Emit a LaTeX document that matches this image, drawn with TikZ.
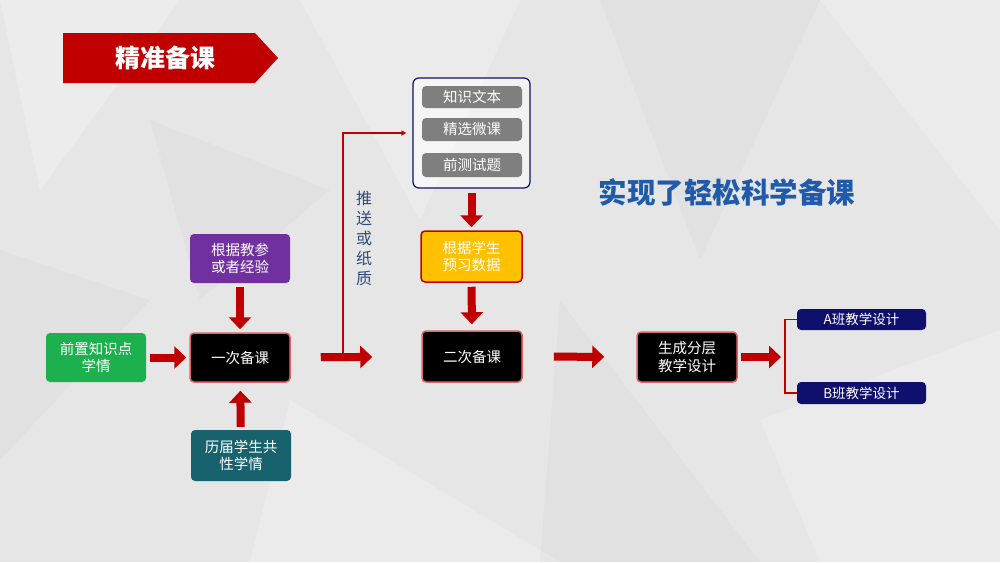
\documentclass[tikz,border=0pt]{standalone}
\usepackage{fontspec}
\setmainfont{Noto Sans CJK SC}
\usetikzlibrary{arrows.meta}
\usetikzlibrary{positioning}
\definecolor{bg}{HTML}{E6E6E6}
\definecolor{darkred}{HTML}{C00000}
\definecolor{boxgreen}{HTML}{1CB04E}
\definecolor{boxpurple}{HTML}{7030A0}
\definecolor{boxteal}{HTML}{17626C}
\definecolor{boxyellow}{HTML}{FFC000}
\definecolor{boxgray}{HTML}{7F7F7F}
\definecolor{boxnavy}{HTML}{0F0F6E}
\definecolor{rimred}{HTML}{E06666}
\definecolor{slogan}{HTML}{1F5BAA}
\definecolor{pushtext}{HTML}{2F4A7A}
\tikzset{box/.style = {rounded corners = 4, inner sep = 0, align = center, text = white,
    minimum width = 100, minimum height = 49, font = \fontsize{14.5}{17.5}\selectfont}}
\tikzset{blackbox/.style = {box, fill = black, draw = rimred, line width = 1.5}}
\tikzset{tagbox/.style = {box, fill = boxgray, minimum height = 23}}
\tikzset{classbox/.style = {box, fill = boxnavy, minimum width = 129, minimum height = 21, font = \fontsize{13.5}{15}\selectfont}}
\tikzset{fat/.style = {draw = darkred, line width = 8, -{Triangle[length = 12, width = 22]}}}

\begin{document}
\begin{tikzpicture}[x = 1pt, y = -1pt]
      \useasboundingbox (0, 0) rectangle (1000, 562);
      \fill[bg] (0, 0) rectangle (1000, 562);
      \fill[white, opacity = 0.25] (0, 0) -- (180, 0) -- (40, 190) -- cycle;
      \fill[white, opacity = 0.2] (300, 0) -- (520, 0) -- (420, 220) -- cycle;
      \fill[black, opacity = 0.02] (600, 0) -- (820, 0) -- (700, 260) -- cycle;
      \fill[white, opacity = 0.2] (820, 0) -- (1000, 0) -- (1000, 230) -- cycle;
      \fill[black, opacity = 0.02] (0, 250) -- (150, 300) -- (0, 460) -- cycle;
      \fill[white, opacity = 0.2] (290, 400) -- (560, 562) -- (250, 562) -- cycle;
      \fill[black, opacity = 0.02] (560, 300) -- (760, 562) -- (540, 562) -- cycle;
      \fill[white, opacity = 0.2] (760, 420) -- (1000, 330) -- (1000, 562) -- (820, 562) -- cycle;
      \fill[black, opacity = 0.018] (150, 120) -- (330, 190) -- (200, 300) -- cycle;

      \fill[darkred] (63, 33) -- (255, 33) -- (278, 58) -- (255, 83) -- (63, 83) -- cycle;
      \node (title) at (165, 58) [text = white, font = \fontsize{25}{27}\selectfont\bfseries] {精准备课};

      \node (pre) at (96, 357.5) [box, fill = boxgreen] {前置知识点\\学情};
      \node (b1) at (240, 357.5) [blackbox] {一次备课};
      \node (ref) at (240, 258.5) [box, fill = boxpurple] {根据教参\\或者经验};
      \node (hist) at (241, 455.5) [box, fill = boxteal, minimum height = 51] {历届学生共\\性学情};

      \node (grp) at (471.5, 133) [draw = boxnavy, fill = white, fill opacity = 0.5, text opacity = 1,
        line width = 1.2, rounded corners = 6, minimum width = 117, minimum height = 110] {};
      \node (k1) at (472, 97) [tagbox, minimum height = 22] {知识文本};
      \node (k2) at (472, 129.5) [tagbox] {精选微课};
      \node (k3) at (472, 165) [tagbox, minimum height = 24] {前测试题};
      \node (data) at (471.5, 256.5) [box, fill = boxyellow, draw = darkred, line width = 1.5,
        minimum width = 101, minimum height = 51] {根据学生\\预习数据};
      \node (b2) at (472, 356.5) [blackbox, minimum height = 51] {二次备课};
      \node (gen) at (687, 357) [blackbox, minimum height = 50] {生成分层\\教学设计};
      \node (clsA) at (861.5, 319.5) [classbox] {A班教学设计};
      \node (clsB) at (861.5, 393) [classbox, minimum height = 22] {B班教学设计};

      \node (slogan) at (727, 192) [text = slogan, font = \fontsize{28.5}{31}\selectfont\bfseries] {实现了轻松科学备课};
      \node (pushlbl) at (364, 238) [text = pushtext, align = center, font = \fontsize{16}{20}\selectfont] {推\\送\\或\\纸\\质};

      \coordinate (push) at (343, 356);
      \coordinate (brk) at (785, 357);

      \draw[fat, shorten <= 4, shorten >= 3] (pre) -- (b1);
      \draw[fat, shorten <= 4, shorten >= 3] (ref) -- (b1);
      \draw[fat, shorten <= 3, shorten >= 8] (hist) -- (b1);
      \draw[fat, shorten <= 30, shorten >= 49] (b1) -- (b2);
      \draw[fat, shorten <= 4, shorten >= 3] (grp) -- (data);
      \draw[fat, shorten <= 4, shorten >= 6] (data) -- (b2);
      \draw[fat, shorten <= 31, shorten >= 32] (b2) -- (gen);
      \draw[fat, shorten <= 3, shorten >= 4] (gen.east) -- (brk);

      \draw[darkred, line width = 1.2, -{Triangle[length = 5, width = 5]}, shorten >= 6] (push) |- (grp.west);
      \draw[darkred, line width = 1.5] (clsA.west) -| (brk) |- (clsB.west);
    \end{tikzpicture}
\end{document}
